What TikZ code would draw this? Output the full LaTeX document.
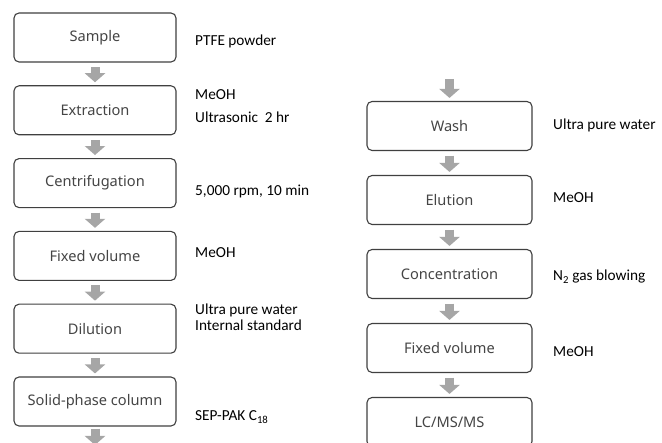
\documentclass[tikz,border=0pt]{standalone}
\usepackage{fontspec}
\setmainfont{Carlito}
\newfontfamily\boxfont{Noto Sans}
\usetikzlibrary{arrows.meta,positioning,calc}
\definecolor{arrowgray}{HTML}{A6A6A6}
\definecolor{boxline}{HTML}{404040}
\definecolor{boxtext}{HTML}{454545}
\tikzset{
  stepbox/.style={draw=boxline, line width=1.1pt, rounded corners=5pt, fill=white,
    minimum height=49pt, inner sep=0pt, font=\boxfont\fontsize{14.6}{16}\selectfont, text=boxtext},
  lbox/.style={stepbox, minimum width=162pt},
  rbox/.style={stepbox, minimum width=165pt},
  flow/.style={draw=arrowgray, line width=9pt, -{Triangle[width=20pt,length=9pt]}},
  lab/.style={anchor=base west, inner sep=0pt, font=\fontsize{15.3}{18}\selectfont, text=black, align=left}
}
\begin{document}
\begin{tikzpicture}[x=1pt,y=-1pt]
\path[use as bounding box, clip] (0,0) rectangle (662,443);
% left column
\node[lbox] (s1) at (95,37.5) {Sample};
\node[lbox] (s2) at (95,110.3) {Extraction};
\node[lbox] (s3) at (95,183.1) {Centrifugation};
\node[lbox] (s4) at (95,255.9) {Fixed volume};
\node[lbox] (s5) at (95,328.7) {Dilution};
\node[lbox] (s6) at (95,401.5) {Solid-phase column};
\coordinate (lend) at (95,445);
% right column
\coordinate (rstart) at (449.5,79);
\node[rbox] (r1) at (449.5,126) {Wash};
\node[rbox] (r2) at (449.5,200) {Elution};
\node[rbox] (r3) at (449.5,274) {Concentration};
\node[rbox] (r4) at (449.5,348) {Fixed volume};
\node[rbox] (r5) at (449.5,422) {LC/MS/MS};
% arrows
\foreach \a/\b in {s1/s2,s2/s3,s3/s4,s4/s5,s5/s6,r1/r2,r2/r3,r3/r4,r4/r5}{
  \draw[flow] ($(\a.south)+(0,4.5)$) -- ($(\b.north)+(0,-3)$);
}
\draw[flow] ($(s6.south)+(0,2)$) -- (lend);
\draw[flow] (rstart) -- ($(r1.north)+(0,-3)$);
% labels left
\node[lab] (t1) at (195,46) {PTFE powder};
\node[lab] (t2a) at (195,100) {MeOH};
\node[lab] (t2b) at (195,123) {Ultrasonic\ \ 2 hr};
\node[lab] (t3) at (195,196) {5,000 rpm, 10 min};
\node[lab] (t4) at (195,258) {MeOH};
\node[lab] (t5a) at (195,315) {Ultra pure water};
\node[lab] (t5b) at (195,331) {Internal standard};
\node[lab] (t6) at (195,421) {SEP-PAK C\textsubscript{18}};
% labels right
\node[lab] (u1) at (553,130) {Ultra pure water};
\node[lab] (u2) at (553,203) {MeOH};
\node[lab] (u3) at (553,281) {N\textsubscript{2} gas blowing};
\node[lab] (u4) at (553,357) {MeOH};
\end{tikzpicture}
\end{document}
